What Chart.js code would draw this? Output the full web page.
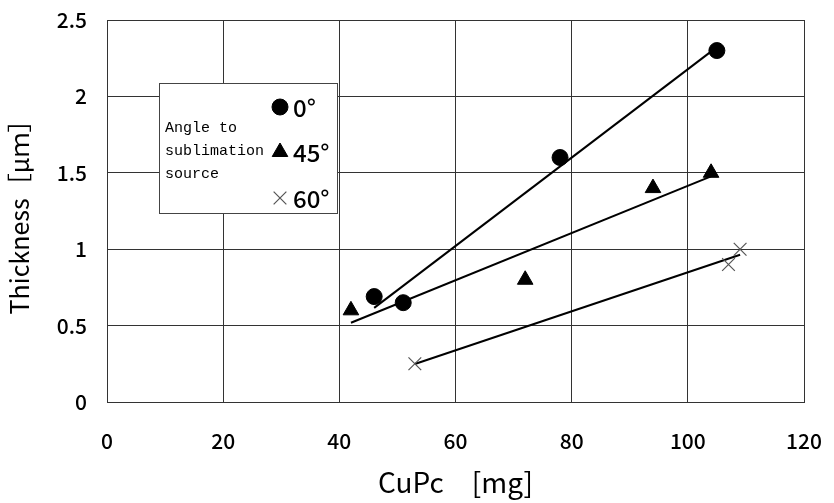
<!DOCTYPE html>
<html>
<head>
<meta charset="utf-8">
<script src="https://cdn.jsdelivr.net/npm/chart.js@4"></script>
<style>
  html, body { margin: 0; padding: 0; background: #fff; }
  #wrap { width: 834px; height: 503px; }
</style>
</head>
<body>
<div id="wrap"><canvas id="c" width="834" height="503"></canvas></div>
<script>
// ---- Data ----
const angleLabels = ['0°', '45°', '60°'];
const mass0 = [46, 51, 78, 105];
const thick0 = [0.69, 0.65, 1.6, 2.3];
const mass45 = [42, 72, 94, 104];
const thick45 = [0.6, 0.8, 1.4, 1.5];
const mass60 = [53, 107, 109];
const thick60 = [0.25, 0.9, 1.0];
const legendTitle = ['Angle to', 'sublimation', 'source'];

// ---- Linear trend over the measured range ----
function trend(x, y) {
  const n = x.length;
  const xm = x.reduce((a, b) => a + b) / n;
  const ym = y.reduce((a, b) => a + b) / n;
  let num = 0, den = 0;
  x.forEach((v, i) => { num += (v - xm) * (y[i] - ym); den += (v - xm) * (v - xm); });
  const slope = num / den, icpt = ym - slope * xm;
  const lo = Math.min(...x), hi = Math.max(...x);
  return [{ x: lo, y: slope * lo + icpt }, { x: hi, y: slope * hi + icpt }];
}
const pts = (x, y) => x.map((v, i) => ({ x: v, y: y[i] }));

const font = '"Noto Sans CJK JP", "Liberation Sans", sans-serif';
const gridCol = '#333';

const styles = [
  { pointStyle: 'circle', radius: 8, color: '#000', border: '#000', bw: 1 },
  { pointStyle: 'triangle', radius: 9, color: '#000', border: '#000', bw: 1 },
  { pointStyle: 'crossRot', radius: 9, color: '#555', border: '#555', bw: 1.2 }
];

function lineSet(data) {
  return { type: 'scatter', data, showLine: true, borderColor: '#000', borderWidth: 2,
           pointRadius: 0, pointHoverRadius: 0, fill: false, order: 2 };
}
function pointSet(label, data, s) {
  return { type: 'scatter', label, data, pointStyle: s.pointStyle, pointRadius: s.radius,
           pointHoverRadius: s.radius, backgroundColor: s.color, borderColor: s.border,
           pointBorderWidth: s.bw, order: 1 };
}

// ---- Legend drawn inside the plot ----
const boxLegend = {
  id: 'boxLegend',
  afterDraw(chart) {
    const ctx = chart.ctx, a = chart.chartArea;
    const L = a.left + 52, T = a.top + 63, W = 178, H = 130;
    ctx.save();
    ctx.fillStyle = '#fff';
    ctx.fillRect(L, T, W, H);
    ctx.strokeStyle = '#444';
    ctx.lineWidth = 1;
    ctx.strokeRect(L + 0.5, T + 0.5, W, H);
    ctx.fillStyle = '#000';
    ctx.textBaseline = 'middle';
    ctx.textAlign = 'left';
    ctx.font = '15px "Liberation Mono", "DejaVu Sans Mono", monospace';
    legendTitle.forEach((t, i) => ctx.fillText(t, L + 6, T + 45 + i * 23));
    const rowY = [T + 24, T + 69, T + 115];
    ctx.font = '500 24px ' + font;
    styles.forEach((s, i) => {
      ctx.fillStyle = s.color;
      ctx.strokeStyle = s.border;
      ctx.lineWidth = s.bw;
      Chart.helpers.drawPoint(ctx, { pointStyle: s.pointStyle, radius: s.radius, borderWidth: s.bw, rotation: 0 }, L + 121, rowY[i]);
      ctx.fillStyle = '#000';
      ctx.fillText(angleLabels[i], L + 134, rowY[i] + 1);
    });
    ctx.restore();
  }
};

new Chart(document.getElementById('c'), {
  type: 'scatter',
  data: {
    datasets: [
      pointSet(angleLabels[0], pts(mass0, thick0), styles[0]),
      pointSet(angleLabels[1], pts(mass45, thick45), styles[1]),
      pointSet(angleLabels[2], pts(mass60, thick60), styles[2]),
      lineSet(trend(mass0, thick0)),
      lineSet(trend(mass45, thick45)),
      lineSet(trend(mass60, thick60))
    ]
  },
  options: {
    responsive: false,
    animation: false,
    layout: { padding: { top: 20, right: 30, left: 0, bottom: 0 } },
    plugins: { legend: { display: false }, tooltip: { enabled: false } },
    scales: {
      x: {
        type: 'linear', min: 0, max: 120,
        ticks: { stepSize: 20, color: '#000', padding: 26, font: { family: font, size: 21, weight: 500 } },
        grid: { color: gridCol, drawTicks: false, lineWidth: 1 },
        border: { color: gridCol },
        title: { display: true, text: 'CuPc　[mg]', color: '#000', font: { family: font, size: 28 }, padding: { top: 2 } },
        afterFit: s => { s.height = 101; s.paddingLeft = 0; s.paddingRight = 0; }
      },
      y: {
        min: 0, max: 2.5,
        ticks: { stepSize: 0.5, color: '#000', padding: 20, font: { family: font, size: 21, weight: 500 },
                 callback: v => String(v) },
        grid: { color: gridCol, drawTicks: false, lineWidth: 1 },
        border: { color: gridCol },
        title: { display: true, text: 'Thickness［μｍ］', color: '#000', font: { family: font, size: 25 }, padding: { bottom: 0 } },
        afterFit: s => { s.width = 107; s.paddingTop = 0; s.paddingBottom = 0; }
      }
    }
  },
  plugins: [boxLegend]
});
</script>
</body>
</html>
